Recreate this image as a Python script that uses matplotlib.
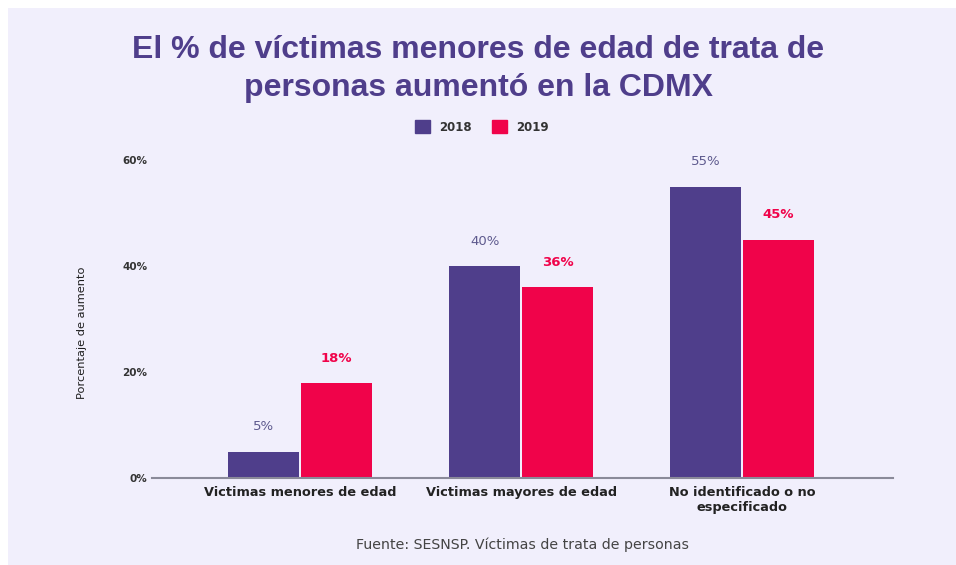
import matplotlib.pyplot as plt
import matplotlib.patches as mpatches
import numpy as np

categories = ["Victimas menores de edad", "Victimas mayores de edad", "No identificado o no\nespecificado"]
series_names = ["2018", "2019"]
values_2018 = [5, 40, 55]
values_2019 = [18, 36, 45]
ytick_values = [0, 20, 40, 60]
ytick_labels = ["0%", "20%", "40%", "60%"]

title = "El % de víctimas menores de edad de trata de\npersonas aumentó en la CDMX"
ylabel = "Porcentaje de aumento"
source = "Fuente: SESNSP. Víctimas de trata de personas"

purple = "#4F3E8B"
red = "#F0034A"
bg = "#F1EFFC"
purple_lbl = "#5E5A8E"

plt.rcParams['font.family'] = ['DejaVu Sans']
title_font = ['Liberation Sans', 'DejaVu Sans']

W, H = 956, 565
fig = plt.figure(figsize=(W/100, H/100), dpi=100, facecolor="white")
fig.patches.append(mpatches.Rectangle((8/W, 0), 1 - 8/W, 1 - 8/H, transform=fig.transFigure,
                                      facecolor=bg, edgecolor="none", zorder=-10))

ax_left, ax_right = 152, 893
ax_bottom, ax_top = 478, 160
ax = fig.add_axes([ax_left/W, 1 - ax_bottom/H, (ax_right-ax_left)/W, (ax_bottom-ax_top)/H])
ax.set_facecolor("none")
ax.set_zorder(5)

x = np.arange(len(categories))
bw = 0.318
gap = 0.006
ax.bar(x - bw/2 - gap, values_2018, width=bw, color=purple, zorder=2)
ax.bar(x + bw/2 + gap, values_2019, width=bw, color=red, zorder=2)

for xi, v in zip(x, values_2018):
    ax.annotate(f"{v}%", (xi - bw/2 - gap, v), xytext=(0, 13), textcoords="offset points",
                ha="center", va="bottom", fontsize=9.5, color=purple_lbl)
for xi, v in zip(x, values_2019):
    ax.annotate(f"{v}%", (xi + bw/2 + gap, v), xytext=(0, 13), textcoords="offset points",
                ha="center", va="bottom", fontsize=9.5, color=red, fontweight="bold")

ax.set_xlim(-0.67, 2.683)
ax.set_ylim(0, 60)
ax.set_yticks(ytick_values)
ax.set_yticklabels(ytick_labels, fontsize=7.5, fontweight="bold", color="#333333")
ax.set_xticks(x)
ax.set_xticklabels(categories, fontsize=9.3, fontweight="bold", color="#222222", linespacing=1.2)
ax.tick_params(axis="both", length=0)
ax.tick_params(axis="y", pad=3.5)
ax.tick_params(axis="x", pad=6)
for s in ["top", "right", "left"]:
    ax.spines[s].set_visible(False)
ax.spines["bottom"].set_color("#8A8A99")
ax.spines["bottom"].set_linewidth(1.5)

fig.text(82/W, 1 - 333/H, ylabel, rotation=90, ha="center", va="center", fontsize=8.2,
         color="#1E1E1E")

fig.text(478/W, 1 - 69/H, title, ha="center", va="center", fontsize=23, fontweight="bold",
         color=purple, linespacing=1.35, family=title_font)

handles = [mpatches.Patch(color=purple, label=series_names[0]),
           mpatches.Patch(color=red, label=series_names[1])]
leg = fig.legend(handles=handles, loc="center", bbox_to_anchor=(482/W, 1 - 127/H), ncol=2,
                 frameon=False, prop={"size": 8.5, "weight": "bold"}, handlelength=1.25,
                 handleheight=1.25, columnspacing=1.7, handletextpad=0.8)
for t in leg.get_texts():
    t.set_color("#333333")

fig.text(522/W, 1 - 545/H, source, ha="center", va="center", fontsize=10.2, color="#444444")

fig.savefig("out.png", dpi=100, facecolor=fig.get_facecolor())
